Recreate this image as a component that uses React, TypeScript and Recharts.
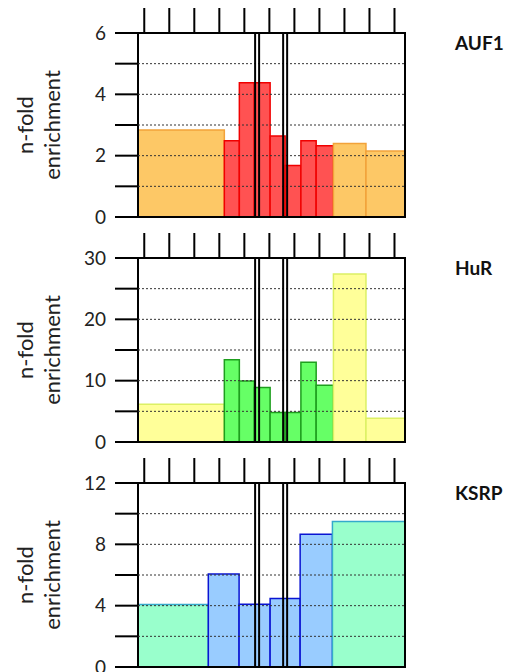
import { ComposedChart, XAxis, YAxis, ReferenceArea, ReferenceLine } from "recharts";

// top tick positions and the two double "break" lines
const xTicks = [1, 2, 3, 4, 5, 6, 7, 8, 9, 10, 11];
const xDomain: [number, number] = [0.75, 11.42];
const breakLines = [5.43, 5.59, 6.55, 6.71];

// AUF1
const auf1Edges = [0.75, 4.2, 4.8, 5.4, 6.03, 6.63, 7.26, 7.87, 8.56, 9.86, 11.42];
const auf1Values = [2.84, 2.49, 4.38, 4.38, 2.64, 1.68, 2.49, 2.32, 2.4, 2.15];
const auf1Groups = ["flank", "core", "core", "core", "core", "core", "core", "core", "flank", "flank"];
const auf1Ticks = [0, 1, 2, 3, 4, 5, 6];
const auf1Labels = [0, 2, 4, 6];

// HuR
const hurEdges = [0.75, 4.2, 4.8, 5.4, 6.03, 6.63, 7.26, 7.87, 8.56, 9.86, 11.42];
const hurValues = [6.16, 13.4, 9.93, 8.9, 4.8, 4.8, 13.0, 9.27, 27.4, 3.87];
const hurGroups = ["flank", "core", "core", "core", "core", "core", "core", "core", "flank", "flank"];
const hurTicks = [0, 5, 10, 15, 20, 25, 30];
const hurLabels = [0, 10, 20, 30];

// KSRP
const ksrpEdges = [0.75, 3.56, 4.79, 6.03, 7.23, 8.52, 11.42];
const ksrpValues = [4.08, 6.07, 4.1, 4.47, 8.66, 9.49];
const ksrpGroups = ["flank", "core", "core", "core", "core", "flank"];
const ksrpTicks = [0, 2, 4, 6, 8, 10, 12];
const ksrpLabels = [0, 4, 8, 12];

type Palette = Record<string, { fill: string; stroke: string }>;

const auf1Colors: Palette = {
  flank: { fill: "#fdc866", stroke: "#f2a23a" },
  core: { fill: "#ff5252", stroke: "#f00000" },
};
const hurColors: Palette = {
  flank: { fill: "#ffff99", stroke: "#dcf064" },
  core: { fill: "#66ff66", stroke: "#1e9e1e" },
};
const ksrpColors: Palette = {
  flank: { fill: "#99ffcc", stroke: "#34aacb" },
  core: { fill: "#99ccff", stroke: "#0a14d2" },
};

const FONT = "Lato, 'Open Sans', sans-serif";

function AxisTitle(props: any) {
  const vb = props.viewBox || { x: 0, y: 33, width: 138, height: 184 };
  const cy = vb.y + vb.height / 2;
  const x1 = vb.x + 33;
  const x2 = vb.x + 60;
  return (
    <g fontFamily={FONT} fontSize={22} fill="#222">
      <text x={x1} y={cy} textAnchor="middle" transform={`rotate(-90, ${x1}, ${cy})`}>
        n-fold
      </text>
      <text x={x2} y={cy} textAnchor="middle" transform={`rotate(-90, ${x2}, ${cy})`}>
        enrichment
      </text>
    </g>
  );
}

function Panel({
  name,
  top,
  edges,
  values,
  groups,
  ticks,
  labels,
  colors,
}: {
  name: string;
  top: number;
  edges: number[];
  values: number[];
  groups: string[];
  ticks: number[];
  labels: number[];
  colors: Palette;
}) {
  const rows = values.map((v, i) => ({ x1: edges[i], x2: edges[i + 1], value: v, group: groups[i] }));
  const yMax = ticks[ticks.length - 1];
  return (
    <div style={{ position: "absolute", left: 0, top, width: 507, height: 237 }}>
      <ComposedChart
        width={507}
        height={237}
        data={rows}
        margin={{ top: 8, right: 102, bottom: 20, left: 0 }}
        style={{ fontFamily: FONT }}
      >
        <XAxis
          xAxisId="t"
          orientation="top"
          type="number"
          dataKey="x1"
          domain={xDomain}
          ticks={xTicks}
          interval={0}
          allowDataOverflow
          height={25}
          tickSize={25}
          axisLine={false}
          tickLine={{ stroke: "#000", strokeWidth: 2 }}
          tickFormatter={() => ""}
        />
        <YAxis
          type="number"
          domain={[0, yMax]}
          ticks={ticks}
          interval={0}
          width={138}
          tickSize={23}
          tickMargin={9}
          axisLine={false}
          tickLine={{ stroke: "#000", strokeWidth: 2 }}
          tick={{ fill: "#222", fontSize: 19, fontFamily: FONT }}
          tickFormatter={(v: number) => (labels.includes(v) ? String(v) : "")}
          label={{ content: (p: any) => <AxisTitle {...p} /> }}
        />
        {rows.map((r, i) => (
          <ReferenceArea
            key={`b${i}`}
            xAxisId="t"
            x1={r.x1}
            x2={r.x2}
            y1={0}
            y2={r.value}
            fill={colors[r.group].fill}
            fillOpacity={1}
            stroke={colors[r.group].stroke}
            strokeWidth={1.5}
            ifOverflow="extendDomain"
          />
        ))}
        {ticks.slice(1, -1).map((t) => (
          <ReferenceLine
            key={`g${t}`}
            xAxisId="t"
            y={t}
            stroke="#333"
            strokeWidth={1}
            strokeDasharray="2 2"
          />
        ))}
        {breakLines.map((b) => (
          <ReferenceLine key={`k${b}`} xAxisId="t" x={b} stroke="#000" strokeWidth={2} />
        ))}
        <ReferenceArea
          xAxisId="t"
          x1={xDomain[0]}
          x2={xDomain[1]}
          y1={0}
          y2={yMax}
          fill="none"
          stroke="#000"
          strokeWidth={2}
        />
      </ComposedChart>
      <div
        style={{
          position: "absolute",
          left: 455,
          top: 33,
          fontFamily: FONT,
          fontWeight: 700,
          fontSize: 19,
          lineHeight: 1,
          color: "#111",
        }}
      >
        {name}
      </div>
    </div>
  );
}

export default function App() {
  return (
    <div style={{ position: "absolute", left: 0, top: 0, width: 507, height: 672, background: "#fff", overflow: "hidden" }}>
      <Panel name="AUF1" top={0} edges={auf1Edges} values={auf1Values} groups={auf1Groups} ticks={auf1Ticks} labels={auf1Labels} colors={auf1Colors} />
      <Panel name="HuR" top={225} edges={hurEdges} values={hurValues} groups={hurGroups} ticks={hurTicks} labels={hurLabels} colors={hurColors} />
      <Panel name="KSRP" top={450} edges={ksrpEdges} values={ksrpValues} groups={ksrpGroups} ticks={ksrpTicks} labels={ksrpLabels} colors={ksrpColors} />
    </div>
  );
}
